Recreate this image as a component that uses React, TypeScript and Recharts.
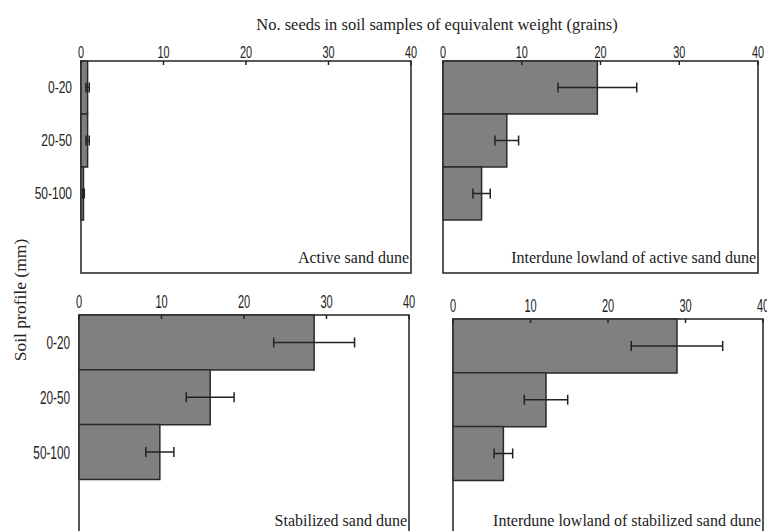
import { BarChart, Bar, XAxis, YAxis, ErrorBar, ReferenceArea } from 'recharts'

const depths = ['0-20', '20-50', '50-100']
const xTicks = [0, 10, 20, 30, 40]

const activeDune = [0.8, 0.8, 0.3]
const activeDuneErr = [0.2, 0.2, 0.1]
const activeLowland = [19.6, 8.1, 4.9]
const activeLowlandErr = [5.0, 1.5, 1.1]
const stabilizedDune = [28.5, 15.9, 9.8]
const stabilizedDuneErr = [4.9, 2.9, 1.7]
const stabilizedLowland = [28.9, 12.0, 6.5]
const stabilizedLowlandErr = [5.9, 2.8, 1.2]

const SERIF = '"Liberation Serif", "Times New Roman", serif'
const SANS = '"Liberation Sans", Arial, sans-serif'

// the 4th, empty category keeps the blank space under the bars
function rows(values: number[], errs: number[]) {
  const r: any[] = depths.map((d, i) => ({ depth: d, seeds: values[i], err: errs[i] }))
  r.push({ depth: '', seeds: null, err: null })
  return r
}

// no narrow font installed, so squeeze the sans glyphs horizontally
const XTick = (props: any) => {
  const { x, y, payload, fontSize, sx, gap } = props
  return (
    <g>
      <line x1={x} y1={y} x2={x} y2={y + 4} stroke="#222" strokeWidth={1.5} />
      <text
        transform={`translate(${x},${y - gap}) scale(${sx},1)`}
        textAnchor="middle"
        fontSize={fontSize}
        fontFamily={SANS}
        fill="#222"
      >
        {payload.value}
      </text>
    </g>
  )
}

const YTick = (props: any) => {
  const { x, y, payload, fontSize, sx } = props
  return (
    <text
      transform={`translate(${x},${y + fontSize * 0.35}) scale(${sx},1)`}
      textAnchor="end"
      fontSize={fontSize}
      fontFamily={SANS}
      fill="#222"
    >
      {payload.value}
    </text>
  )
}

interface PanelProps {
  data: any[]
  left: number
  top: number
  w: number
  h: number
  label: string
  showY?: boolean
  fontSize?: number
  sx?: number
  ysx?: number
  gap?: number
  labelLift?: number
}

function Panel({
  data, left, top, w, h, label,
  showY = false, fontSize = 16, sx = 0.68, ysx = 0.75, gap = 3, labelLift = 10,
}: PanelProps) {
  // panel name sits in the lower right corner, nearly touching the frame
  const cornerLabel = (p: any) => {
    const vb = p.viewBox
    return (
      <text
        x={vb.x + vb.width - 2}
        y={vb.y + vb.height - labelLift}
        textAnchor="end"
        fontSize={16}
        fontFamily={SERIF}
        fill="#222"
      >
        {label}
      </text>
    )
  }

  return (
    <div style={{ position: 'absolute', left: left - 70, top: top - 30 }}>
      <BarChart
        width={w + 78}
        height={h + 34}
        data={data}
        layout="vertical"
        barCategoryGap={0}
        margin={{ top: 10, right: 8, bottom: 4, left: 0 }}
      >
        <XAxis
          type="number"
          orientation="top"
          domain={[0, 40]}
          ticks={xTicks}
          height={20}
          axisLine={false}
          tickLine={false}
          tickSize={0}
          tickMargin={0}
          tick={<XTick fontSize={fontSize} sx={sx} gap={gap} />}
        />
        <YAxis
          type="category"
          dataKey="depth"
          width={70}
          axisLine={false}
          tickLine={false}
          tickSize={0}
          tickMargin={9}
          tick={showY ? <YTick fontSize={fontSize} sx={ysx} /> : false}
        />
        <Bar dataKey="seeds" fill="#808080" stroke="#2a2a2a" strokeWidth={1.5} isAnimationActive={false}>
          <ErrorBar dataKey="err" direction="x" width={5} stroke="#222" strokeWidth={1.5} />
        </Bar>
        <ReferenceArea
          x1={0}
          x2={40}
          fill="none"
          stroke="#222"
          strokeWidth={1.5}
          ifOverflow="visible"
          label={{ content: cornerLabel }}
        />
      </BarChart>
    </div>
  )
}

export default function App() {
  return (
    <div
      style={{
        position: 'absolute',
        left: 0,
        top: 0,
        width: 767,
        height: 531,
        overflow: 'hidden',
        background: '#fff',
        fontFamily: SERIF,
        color: '#222',
      }}
    >
      <div style={{ position: 'absolute', left: 0, width: 874, top: 15, textAlign: 'center', fontSize: 16.5 }}>
        No. seeds in soil samples of equivalent weight (grains)
      </div>
      <div
        style={{
          position: 'absolute',
          left: 20,
          top: 300,
          transform: 'translate(-50%, -50%) rotate(-90deg)',
          whiteSpace: 'nowrap',
          fontSize: 17.5,
        }}
      >
        Soil profile (mm)
      </div>
      <Panel data={rows(activeDune, activeDuneErr)} left={81} top={61} w={330} h={212} label="Active sand dune" showY />
      <Panel data={rows(activeLowland, activeLowlandErr)} left={443} top={61} w={315} h={212} label="Interdune lowland of active sand dune" />
      <Panel data={rows(stabilizedDune, stabilizedDuneErr)} left={79} top={315} w={330} h={219} label="Stabilized sand dune" showY fontSize={19} sx={0.58} ysx={0.62} gap={7} labelLift={8} />
      <Panel data={rows(stabilizedLowland, stabilizedLowlandErr)} left={453} top={319} w={310} h={215} label="Interdune lowland of stabilized sand dune" fontSize={19} sx={0.58} gap={7} labelLift={8} />
    </div>
  )
}
